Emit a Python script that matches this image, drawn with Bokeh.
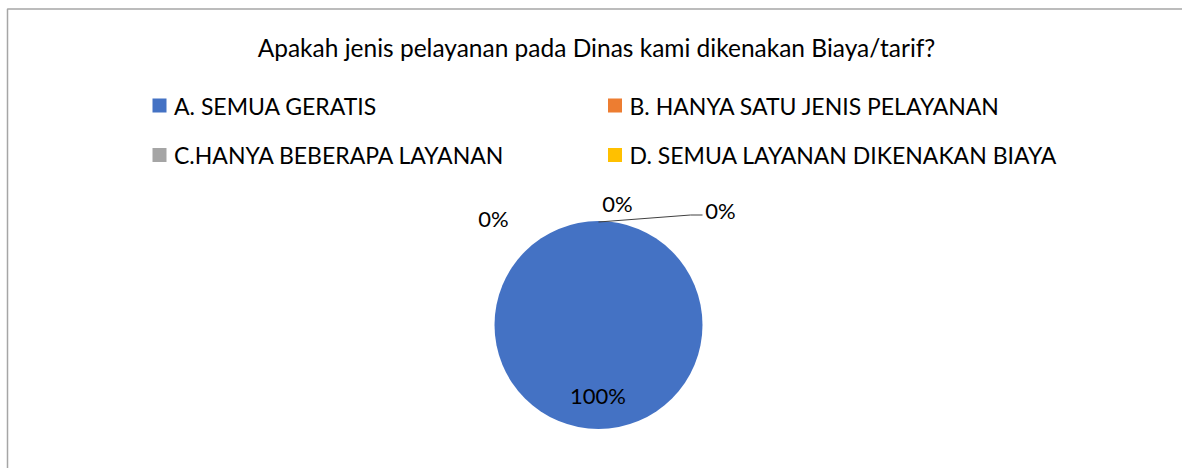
import numpy as np
from bokeh.plotting import figure
from bokeh.models import Range1d
from bokeh.core.properties import value
from bokeh.embed import file_html
from bokeh.resources import INLINE

title = "Apakah jenis pelayanan pada Dinas kami dikenakan Biaya/tarif?"
categories = ["A. SEMUA GERATIS", "B. HANYA SATU JENIS PELAYANAN",
              "C.HANYA BEBERAPA LAYANAN", "D. SEMUA LAYANAN DIKENAKAN BIAYA"]
values = [100, 0, 0, 0]
colors = ["#4472C4", "#ED7D31", "#A5A5A5", "#FFC000"]

FONT = "Lato"
W, H = 1182, 468
p = figure(width=W, height=H, x_range=Range1d(0, W), y_range=Range1d(H, 0),
           output_backend="svg", toolbar_location=None, min_border=0)
p.axis.visible = False
p.grid.visible = False
p.outline_line_color = None

# frame (extends beyond the visible window right and bottom)
p.line(x=[7, 7, 1300], y=[600, 8.5, 8.5], line_color="#A6A6A6", line_width=1.5)

# title
p.text(x=[596], y=[47], text=[title], text_font=value(FONT), text_font_size="24.5px",
       text_align="center", text_baseline="middle", text_color="#000000")

# legend
lx = [159, 614.5, 159, 614.5]
ly = [105, 105, 154.5, 154.5]
p.rect(x=lx, y=ly, width=14, height=14, fill_color=colors, line_color=None)
p.text(x=[v + 14.5 for v in lx], y=ly, text=categories, text_font=value(FONT),
       text_font_size="23px", text_baseline="middle", text_color="#000000")

# pie (starts at 12 o'clock, clockwise)
cx, cy, r = 598, 324.5, 104
total = sum(values)
fr = np.array(values) / total
ends = np.cumsum(fr)
starts = ends - fr
# y axis is flipped, so clockwise on screen is increasing data angle
start_ang = [-np.pi / 2 + 2 * np.pi * s for s in starts]
end_ang = [-np.pi / 2 + 2 * np.pi * e for e in ends]
for i, v in enumerate(values):
    if v > 0:
        if fr[i] >= 0.9999:
            p.scatter(x=[cx], y=[cy], size=2 * r, marker="circle",
                      fill_color=colors[i], line_color=None)
        else:
            p.wedge(x=[cx], y=[cy], radius=r, start_angle=start_ang[i],
                    end_angle=end_ang[i], fill_color=colors[i], line_color="white")

# data labels
lab_x = [597.5, 493, 617, 720]
lab_y = [395, 218, 203, 210]
labels = [f"{v:.0f}%" for v in values]
p.text(x=lab_x, y=lab_y, text=labels, text_font=value(FONT), text_font_size="22px",
       text_align="center", text_baseline="middle", text_color="#000000")

# leader line for the last label
p.line(x=[598, 690, 702], y=[221.5, 214.5, 214.5], line_color="#404040", line_width=1)

open("out.html", "w").write(file_html(p, INLINE))
